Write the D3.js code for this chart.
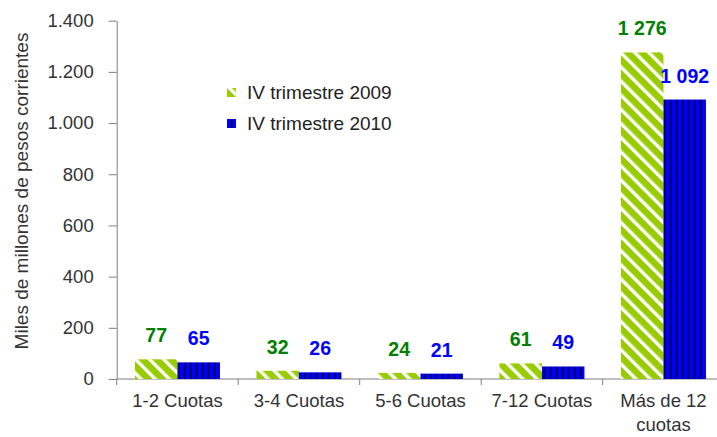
<!DOCTYPE html>
<html>
<head>
<meta charset="utf-8">
<script src="https://cdn.jsdelivr.net/npm/d3@7"></script>
<style>
  body { margin: 0; background: #fff; }
  svg { display: block; font-family: "Liberation Sans", Arial, sans-serif; }
  .axis path, .axis line { stroke: #7f7f7f; }
  .axis text { fill: #333; font-size: 18.5px; }
</style>
</head>
<body>
<svg id="chart"></svg>
<script>
// Chart data
const categories = ['1-2 Cuotas', '3-4 Cuotas', '5-6 Cuotas', '7-12 Cuotas', 'Más de 12|cuotas'];
const seriesNames = ['IV trimestre 2009', 'IV trimestre 2010'];
const values2009 = [77, 32, 24, 61, 1276];
const values2010 = [65, 26, 21, 49, 1092];
const yTicks = [0, 200, 400, 600, 800, 1000, 1200, 1400];

const width = 717, height = 437;
const margin = {top: 20.7, left: 116.7, bottom: 58};
const bandW = 121.5;

const svg = d3.select('#chart').attr('width', width).attr('height', height);

// Patterns: diagonal hatched green, vertical striped blue
const defs = svg.append('defs');
const pGreen = defs.append('pattern')
    .attr('id', 'hatchGreen')
    .attr('patternUnits', 'userSpaceOnUse')
    .attr('width', 10).attr('height', 10)
    .attr('patternTransform', 'rotate(-45)');
pGreen.append('rect').attr('width', 10).attr('height', 10).attr('fill', '#99cc00');
pGreen.append('rect').attr('x', 0).attr('width', 3.4).attr('height', 10).attr('fill', '#ffffff');

const pBlue = defs.append('pattern')
    .attr('id', 'stripeBlue')
    .attr('patternUnits', 'userSpaceOnUse')
    .attr('width', 6).attr('height', 10);
pBlue.append('rect').attr('width', 6).attr('height', 10).attr('fill', '#0000ff');
pBlue.append('rect').attr('x', 3.5).attr('width', 2.5).attr('height', 10).attr('fill', '#00007a');

const fills = ['url(#hatchGreen)', 'url(#stripeBlue)'];
const labelColors = ['#008000', '#0000ff'];

// Scales
const x = d3.scaleBand()
    .domain(categories)
    .range([margin.left, margin.left + bandW * categories.length])
    .paddingInner(0).paddingOuter(0);

const xSub = d3.scaleBand()
    .domain([0, 1])
    .range([18.25, bandW - 18.25])
    .padding(0);

const y = d3.scaleLinear()
    .domain([0, 1400])
    .range([379, margin.top]);

const fmtAxis = d3.formatLocale({decimal: ',', thousands: '.', grouping: [3], currency: ['', '']}).format(',');
const fmtVal = d3.formatLocale({decimal: ',', thousands: ' ', grouping: [3], currency: ['', '']}).format(',');

// Y axis
const yAxis = d3.axisLeft(y)
    .tickValues(yTicks)
    .tickSize(8)
    .tickSizeOuter(0)
    .tickPadding(15)
    .tickFormat(fmtAxis);

svg.append('g')
    .attr('class', 'axis y-axis')
    .attr('transform', `translate(${margin.left},0)`)
    .call(yAxis);

// X axis line with ticks at band boundaries
const xAxisG = svg.append('g').attr('class', 'axis x-axis');
xAxisG.append('line')
    .attr('x1', margin.left).attr('x2', width)
    .attr('y1', y(0)).attr('y2', y(0));
const bounds = categories.map(d => x(d)).concat([x(categories[categories.length - 1]) + x.bandwidth()]);
xAxisG.selectAll('.btick')
    .data(bounds)
    .join('line')
    .attr('class', 'btick')
    .attr('x1', d => d).attr('x2', d => d)
    .attr('y1', y(0)).attr('y2', y(0) + 6);

// Category labels (multi-line via '|')
xAxisG.selectAll('.cat')
    .data(categories)
    .join('text')
    .attr('class', 'cat')
    .attr('text-anchor', 'middle')
    .attr('x', d => x(d) + x.bandwidth() / 2)
    .attr('y', 407)
    .each(function(d) {
      const t = d3.select(this);
      d.split('|').forEach((line, i) => {
        t.append('tspan')
          .attr('x', x(d) + x.bandwidth() / 2)
          .attr('dy', i === 0 ? 0 : 24)
          .text(line);
      });
    });

// Y axis title
svg.append('text')
    .attr('transform', 'translate(28,191) rotate(-90)')
    .attr('text-anchor', 'middle')
    .attr('fill', '#333')
    .style('font-size', '19px')
    .text('Miles de millones de pesos corrientes');

// Bars
const series = [values2009, values2010];
const rows = [];
series.forEach((vals, s) => {
  vals.forEach((v, i) => rows.push({cat: categories[i], s: s, value: v}));
});

svg.append('g').selectAll('.bar')
    .data(rows)
    .join('rect')
    .attr('class', 'bar')
    .attr('x', d => x(d.cat) + xSub(d.s))
    .attr('width', xSub.bandwidth())
    .attr('y', d => y(d.value))
    .attr('height', d => y(0) - y(d.value))
    .attr('fill', d => fills[d.s]);

// Value labels
svg.append('g').selectAll('.val')
    .data(rows)
    .join('text')
    .attr('class', 'val')
    .attr('text-anchor', 'middle')
    .attr('x', d => x(d.cat) + xSub(d.s) + xSub.bandwidth() / 2)
    .attr('y', d => y(d.value) - 17)
    .attr('fill', d => labelColors[d.s])
    .style('font-size', '19.5px')
    .style('font-weight', 'bold')
    .text(d => fmtVal(d.value));

// Legend
const legend = svg.append('g').selectAll('.legend')
    .data(seriesNames)
    .join('g')
    .attr('class', 'legend')
    .attr('transform', (d, i) => `translate(227,${88 + i * 31})`);

legend.append('rect')
    .attr('width', 9).attr('height', 9)
    .attr('fill', (d, i) => fills[i]);

legend.append('text')
    .attr('x', 20)
    .attr('y', 4.5)
    .attr('dy', '0.35em')
    .attr('fill', '#222')
    .style('font-size', '19px')
    .text(d => d);
</script>
</body>
</html>
